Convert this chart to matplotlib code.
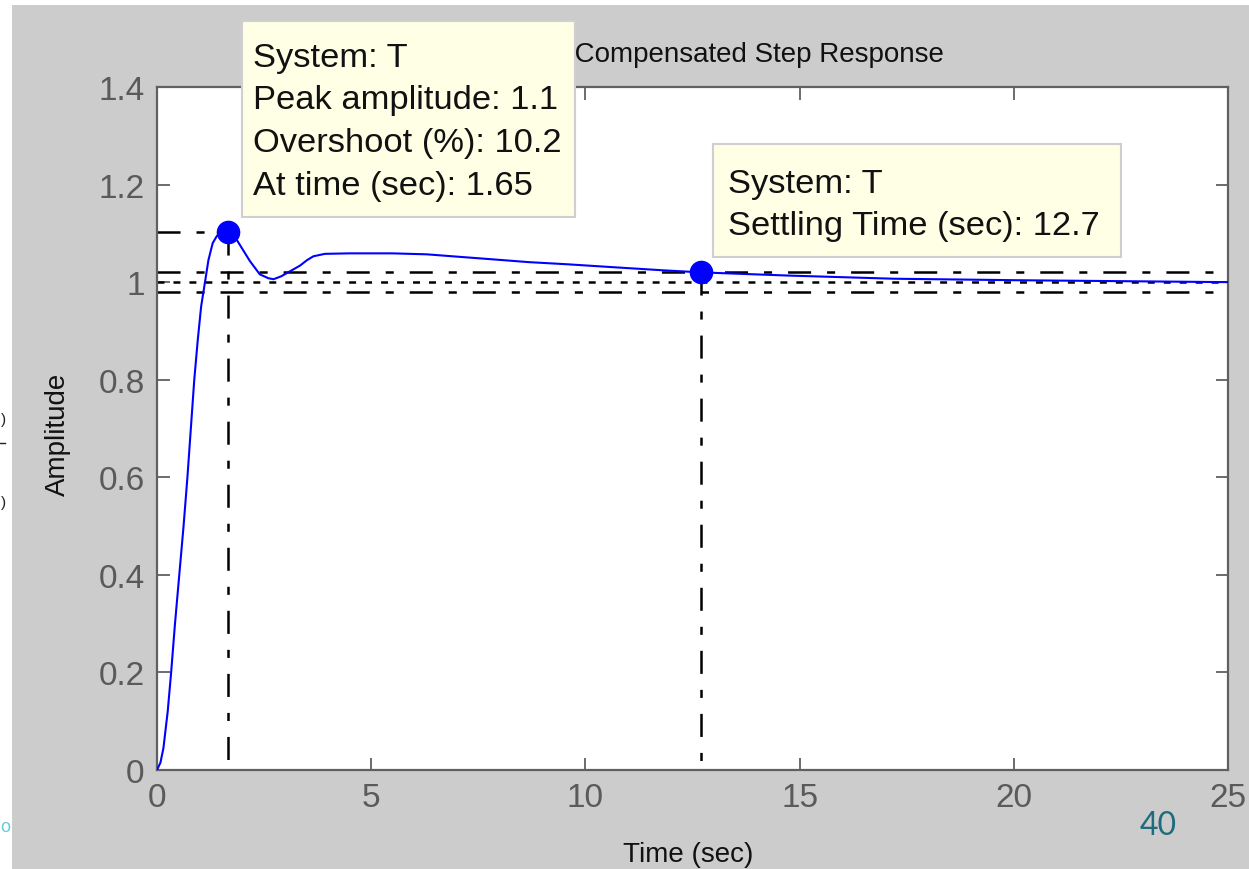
import matplotlib
matplotlib.use("Agg")
import matplotlib.pyplot as plt
from matplotlib.patches import Rectangle
from matplotlib.lines import Line2D
from matplotlib.ticker import FuncFormatter

# ---------------- data ----------------
time_s = [0, 0.08, 0.15, 0.25, 0.33, 0.42, 0.52, 0.62, 0.71, 0.79, 0.87, 0.95,
          1.03, 1.12, 1.20, 1.30, 1.40, 1.50, 1.65, 1.78, 1.86, 2.00, 2.17,
          2.40, 2.60, 2.72, 2.90, 3.10, 3.34, 3.50, 3.65, 3.92, 4.50, 5.50,
          6.30, 6.82, 7.87, 8.68, 9.60, 10.67, 11.77, 12.70, 14.73, 17.20,
          20.0, 22.5, 25.0]
amplitude = [0, 0.015, 0.045, 0.12, 0.20, 0.30, 0.40, 0.50, 0.60, 0.70, 0.80,
             0.88, 0.95, 1.00, 1.045, 1.08, 1.095, 1.10, 1.102, 1.095, 1.087,
             1.067, 1.043, 1.016, 1.008, 1.006, 1.012, 1.022, 1.034, 1.045,
             1.053, 1.058, 1.059, 1.059, 1.057, 1.0535, 1.0465, 1.041, 1.0365,
             1.0305, 1.0245, 1.020, 1.0135, 1.007, 1.004, 1.002, 1.000]

peak_time = 1.65
peak_amp = 1.102
settle_time = 12.7
settle_amp = 1.02
final_value = 1.0
band_hi, band_lo = 1.02, 0.98

x_ticks = [0, 5, 10, 15, 20, 25]
y_ticks = [0, 0.2, 0.4, 0.6, 0.8, 1.0, 1.2, 1.4]

title_text = "Lag-Lead Compensated Step Response"
xlabel_text = "Time (sec)"
ylabel_text = "Amplitude"
tip1_lines = ["System: T", "Peak amplitude: 1.1", "Overshoot (%): 10.2",
              "At time (sec): 1.65"]
tip2_lines = ["System: T", "Settling Time (sec): 12.7"]
page_number = "40"

# ---------------- layout helpers ----------------
W, H = 1249, 870
plt.rcParams['font.family'] = ['Liberation Sans', 'DejaVu Sans']
plt.rcParams['lines.scale_dashes'] = False


def fx(x):
    return x / W


def fy(y):
    return 1 - y / H


fig = plt.figure(figsize=(W / 100, H / 100), dpi=100, facecolor='white')

# gray MATLAB figure background (screenshot area)
fig.add_artist(Rectangle((fx(12), 0), 1 - fx(12), fy(6), transform=fig.transFigure,
                         facecolor='#cccccc', edgecolor='none', zorder=-10))

ax_l, ax_r, ax_t, ax_b = 157, 1228, 88, 771
ax = fig.add_axes([fx(ax_l), fy(ax_b), fx(ax_r) - fx(ax_l), fy(ax_t) - fy(ax_b)])
ax.set_facecolor('white')
ax.set_xlim(0, 25)
ax.set_ylim(0, 1.4)

dashdot = (0, (16.6, 11.5, 5.8, 11.5))
dashed = (0, (5.0, 6.5))
klw = 1.8

# characteristic lines
ax.plot([0, 25], [band_hi, band_hi], color='black', lw=klw, ls=dashdot, zorder=2)
ax.plot([0, 25], [band_lo, band_lo], color='black', lw=klw, ls=dashdot, zorder=2)
ax.plot([0, 25], [final_value, final_value], color='black', lw=klw, ls=dashed, zorder=2)
ax.plot([0, peak_time], [peak_amp, peak_amp], color='black', lw=klw, ls=dashdot, zorder=2)
ax.plot([peak_time, peak_time], [peak_amp, 0], color='black', lw=klw, ls=dashdot, zorder=2)
ax.plot([settle_time, settle_time], [settle_amp, 0], color='black', lw=klw, ls=dashdot, zorder=2)

# response
ax.plot(time_s, amplitude, color='#0000ff', lw=1.5, zorder=3)
ax.plot([peak_time], [peak_amp], 'o', color='#0000ff', ms=16, zorder=4)
ax.plot([settle_time], [settle_amp], 'o', color='#0000ff', ms=16, zorder=4)

# axes styling
for sp in ax.spines.values():
    sp.set_color('#606060')
    sp.set_linewidth(1.6)
ax.set_xticks(x_ticks)
ax.set_yticks(y_ticks)
fmt = FuncFormatter(lambda v, p: f"{v:g}")
ax.xaxis.set_major_formatter(fmt)
ax.yaxis.set_major_formatter(fmt)
ax.tick_params(direction='in', length=9, width=1.3, color='#606060',
               top=True, right=True, labelsize=24, labelcolor='#5a5a5a')
ax.tick_params(axis='x', pad=9)
ax.tick_params(axis='y', pad=9)

# title (partly hidden behind the data tip)
fig.text(fx(944), fy(62), title_text, ha='right', va='baseline', fontsize=20,
         color='#111111', zorder=1)
fig.text(fx(688), fy(862), xlabel_text, ha='center', va='baseline', fontsize=20,
         color='#111111')
fig.text(fx(58), fy(434), ylabel_text, ha='center', va='center', rotation=90,
         fontsize=20, color='#111111')

# data tips
def data_tip(x0, y0, x1, y1, lines, tx, baselines):
    fig.add_artist(Rectangle((fx(x0), fy(y1)), fx(x1) - fx(x0), fy(y0) - fy(y1),
                             transform=fig.transFigure, facecolor='#ffffe6',
                             edgecolor='#cfcfcf', lw=1.5, zorder=10))
    for line, b in zip(lines, baselines):
        fig.text(fx(tx), fy(b), line, ha='left', va='baseline', fontsize=24.8,
                 color='#111111', zorder=11)


data_tip(242, 22, 575, 218, tip1_lines, 253, [66.7, 109.5, 152.3, 195])
data_tip(713, 145, 1121, 258, tip2_lines, 728, [193.3, 235])

# slide page number
fig.text(fx(1158), fy(835), page_number, ha='center', va='baseline', fontsize=23,
         color='#1f6c7c', family=['Lato', 'DejaVu Sans'])

# slide fragments at the left border (kept fully inside the picture)
fig.text(fx(0.5), fy(424), ")", ha='left', va='baseline', fontsize=11, color='#222222')
fig.add_artist(Line2D([0, fx(5)], [fy(444), fy(444)], transform=fig.transFigure,
                      color='#222222', lw=1))
fig.text(fx(0.5), fy(507), ")", ha='left', va='baseline', fontsize=11, color='#222222')
fig.text(fx(0.5), fy(832), "o", ha='left', va='baseline', fontsize=13, color='#66ccdd')

fig.savefig("out.png", dpi=100, facecolor=fig.get_facecolor())
